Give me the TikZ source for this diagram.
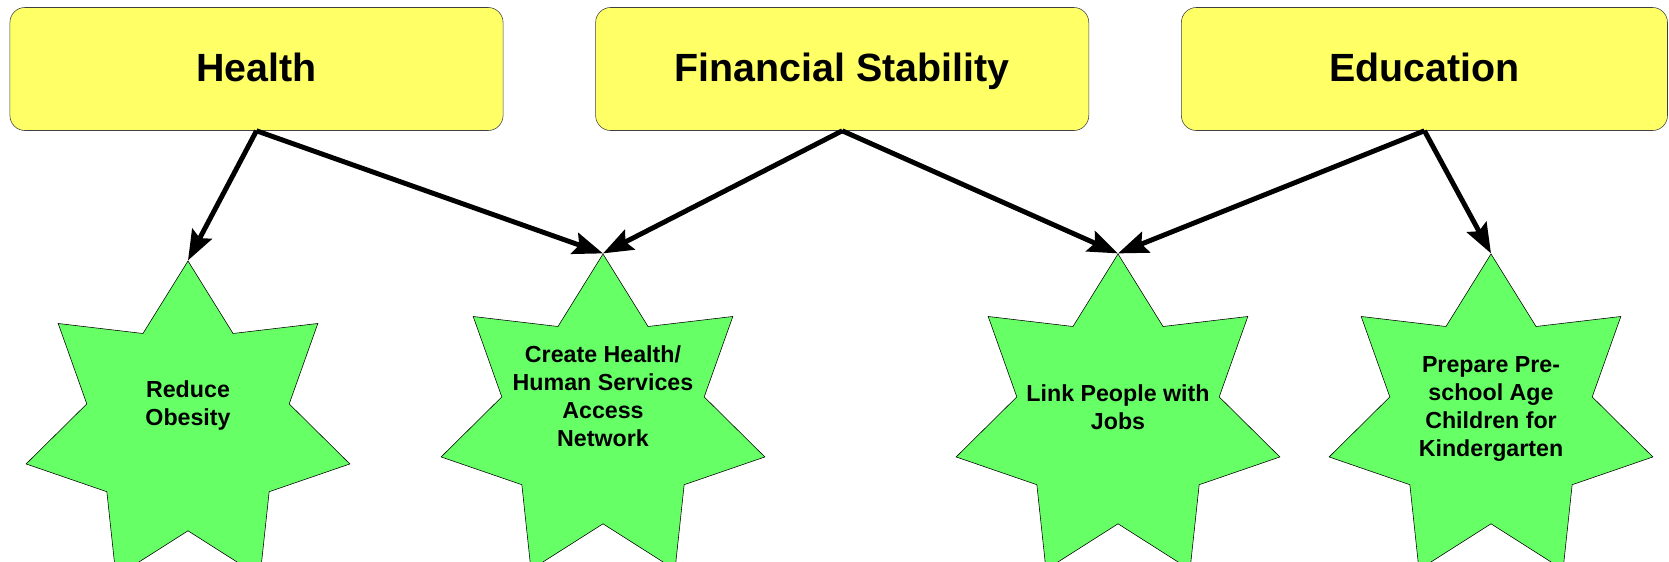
\documentclass[tikz,border=0pt]{standalone}
\usepackage{fontspec}
\setmainfont{Liberation Sans}
\usepackage{xcolor}
\usepackage{tikz}
\usetikzlibrary{shapes,arrows.meta,positioning}

\definecolor{areayellow}{HTML}{FFFF66}
\definecolor{goalgreen}{HTML}{66FF66}

\begin{document}
\begin{tikzpicture}[
    x=0.025cm, y=-0.025cm,
    area/.style={rectangle, rounded corners=0.375cm, draw=black!75, fill=areayellow, minimum width=12.325cm, minimum height=3.075cm, text depth=0.21em, font=\fontsize{28}{34}\selectfont\bfseries},
    goal/.style={star, star points=7, star point ratio=1.6, draw, fill=goalgreen, minimum size=8.3cm, inner sep=0pt},
    goaltext/.style={align=center, yshift=0.45cm, font=\fontsize{16.5}{20}\selectfont\bfseries},
    arrow/.style={-{Stealth[length=0.75cm, width=0.55cm, inset=0.12cm]}, line width=3.5pt},
]
\clip (0,0) rectangle (1669,561);

% Three focus areas
\node[area] (health) at (256.5,69) {Health};
\node[area, right=2.3cm of health] (financial) {Financial Stability};
\node[area, right=2.3cm of financial, minimum width=12.15cm] (education) {Education};

% Goals
\node[goal, label={[goaltext, yshift=0.08cm]center:Reduce\\Obesity}] (obesity) at (188,427) {};
\node[goal, label={[goaltext, yshift=0.15cm]center:Create Health/\\Human Services\\Access\\Network}] (network) at (603,420) {};
\node[goal, label={[goaltext, yshift=-0.14cm]center:Link People with\\Jobs}] (jobs) at (1118,420) {};
\node[goal, label={[goaltext, yshift=-0.18cm]center:Prepare Pre-\\school Age\\Children for\\Kindergarten}] (kinder) at (1491,420) {};

% Arrows from areas to goals
\draw[arrow] (health.south) -- (obesity.north);
\draw[arrow] (health.south) -- (network.north);
\draw[arrow] (financial.south) -- (network.north);
\draw[arrow] (financial.south) -- (jobs.north);
\draw[arrow] (education.south) -- (jobs.north);
\draw[arrow] (education.south) -- (kinder.north);

\end{tikzpicture}
\end{document}
